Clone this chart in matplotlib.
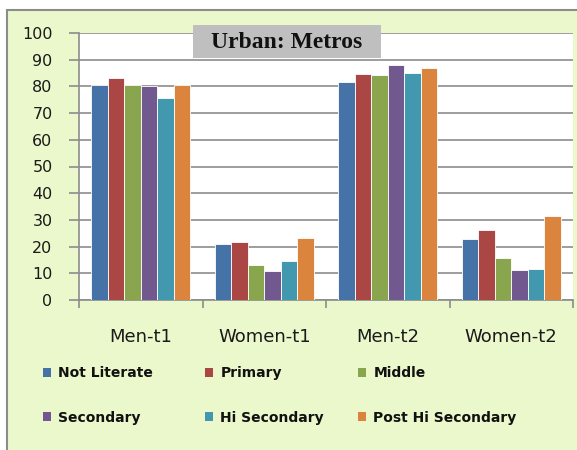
import numpy as np
import matplotlib.pyplot as plt
from matplotlib.patches import Rectangle, Patch

categories = ['Men-t1', 'Women-t1', 'Men-t2', 'Women-t2']
series = ['Not Literate', 'Primary', 'Middle', 'Secondary', 'Hi Secondary', 'Post Hi Secondary']
values = [
    [80.4, 21.1, 81.7, 22.9],   # Not Literate
    [83.2, 21.6, 84.5, 26.3],   # Primary
    [80.7, 13.1, 84.2, 15.8],   # Middle
    [80.0, 10.7, 88.1, 11.2],   # Secondary
    [75.5, 14.5, 85.2, 11.7],   # Hi Secondary
    [80.7, 23.3, 86.9, 31.5],   # Post Hi Secondary
]
colors = ['#4572A7', '#AA4643', '#89A54E', '#71588F', '#4198AF', '#DB843D']

W, H = 577, 450
fig = plt.figure(figsize=(W / 100, H / 100), dpi=100)
fig.patch.set_facecolor('white')

# light green chart area with grey border
fig.patches.append(Rectangle((7 / W, -0.05), 1.1, 1 - 10 / H + 0.05,
                             transform=fig.transFigure, facecolor='#EBF8CC',
                             edgecolor='#8c8c8c', linewidth=1.5, zorder=-1))

ax = fig.add_axes([79 / W, 1 - 300 / H, (573 - 79) / W, (300 - 33) / H])
ax.set_facecolor('white')

n = len(series)
x = np.arange(len(categories))
bw = 0.8 / n
for i, (name, vals) in enumerate(zip(series, values)):
    ax.bar(x - 0.4 + bw * (i + 0.5), vals, bw, color=colors[i],
           edgecolor='white', linewidth=0.6, label=name, zorder=3)

ax.set_xlim(-0.5, len(categories) - 0.5)
ax.set_ylim(0, 100)
ax.set_yticks(range(0, 101, 10))
ax.yaxis.grid(True, color='#8c8c8c', linewidth=1.2, zorder=0)
ax.set_axisbelow(True)

ax.set_xticks(x)
ax.set_xticklabels(categories, fontsize=13, color='#1a1a1a')
ax.tick_params(axis='x', length=0, pad=20)
ax.set_xticks(np.arange(-0.5, len(categories)), minor=True)
ax.tick_params(axis='x', which='minor', length=6, width=1.2, color='#8c8c8c', direction='out')
ax.tick_params(axis='y', length=7, width=1.2, color='#8c8c8c', labelsize=11.5,
               labelcolor='#1a1a1a', pad=12)

for side in ['top', 'right']:
    ax.spines[side].set_visible(False)
for side in ['left', 'bottom']:
    ax.spines[side].set_color('#8c8c8c')
    ax.spines[side].set_linewidth(1.2)

# title box
fig.patches.append(Rectangle((193 / W, 1 - 58 / H), (381 - 193) / W, 33 / H,
                             transform=fig.transFigure, facecolor='#BFBFBF',
                             edgecolor='none', zorder=5))
fig.text(287 / W, 1 - 42 / H, 'Urban: Metros', ha='center', va='center',
         fontsize=17, fontweight='bold', family='Liberation Serif', color='#111111',
         zorder=6)

# legend, three columns of two rows
col_x = [43, 205, 358]
for c in range(3):
    idx = [c, c + 3]
    handles = [Patch(facecolor=colors[i], edgecolor='none') for i in idx]
    leg = fig.legend(handles, [series[i] for i in idx], loc='upper left',
                     bbox_to_anchor=(col_x[c] / W, 1 - 366 / H), frameon=False,
                     prop={'weight': 'bold', 'size': 10}, handlelength=0.6,
                     handleheight=0.6, handletextpad=0.5, labelspacing=2.2,
                     borderaxespad=0, borderpad=0)
    for t in leg.get_texts():
        t.set_color('#111111')

fig.savefig('out.png', dpi=100, facecolor=fig.get_facecolor())
